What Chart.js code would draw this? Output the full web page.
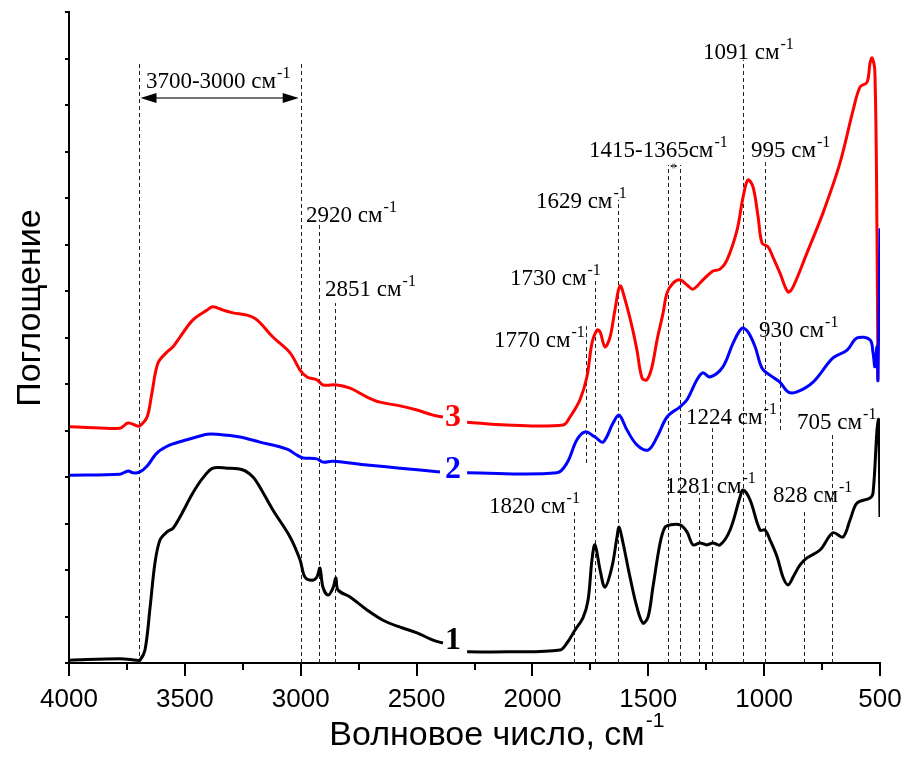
<!DOCTYPE html>
<html>
<head>
<meta charset="utf-8">
<script src="https://cdn.jsdelivr.net/npm/chart.js@4.4.1/dist/chart.umd.min.js"></script>
<style>
    body { margin: 0; background: #fff; }
    .spectrum { width: 908px; height: 771px; position: relative; }
</style>
</head>
<body>
<div class="spectrum"><canvas id="spectrumCanvas"></canvas></div>
<script>
// sample 1 (black)
const wn1 = [3996, 3780, 3707, 3694, 3672, 3650, 3629, 3607, 3577, 3551, 3521, 3465, 3422, 3379, 3318, 3249, 3206, 3176, 3120, 3046, 3003, 2982, 2951, 2930, 2917, 2904, 2882, 2861, 2848, 2839, 2787, 2714, 2645, 2571, 2498, 2429, 2386,
    2335,
    2282, 2110, 1881, 1851, 1816, 1782, 1760, 1743, 1730, 1708, 1687, 1657, 1635, 1626, 1609, 1579, 1549, 1523, 1501, 1480, 1449, 1428, 1406, 1363, 1333, 1307, 1277, 1247, 1221, 1190, 1147, 1104, 1091, 1061, 1018, 996, 975, 944, 919, 897, 875, 845, 815, 759, 703, 660, 629, 599, 543, 530, 513, 506, 500];
const abs1 = [0.006, 0.009, 0.006, 0.006, 0.028, 0.120, 0.215, 0.265, 0.282, 0.290, 0.314, 0.366, 0.398, 0.419, 0.419, 0.415, 0.400, 0.378, 0.329, 0.271, 0.222, 0.185, 0.178, 0.185, 0.204, 0.163, 0.146, 0.161, 0.183, 0.157, 0.142, 0.114, 0.092, 0.077, 0.065, 0.049, 0.043,
    null,
    0.024, 0.024, 0.028, 0.043, 0.071, 0.097, 0.135, 0.222, 0.254, 0.200, 0.163, 0.206, 0.271, 0.292, 0.258, 0.185, 0.120, 0.086, 0.099, 0.163, 0.258, 0.292, 0.297, 0.297, 0.282, 0.254, 0.258, 0.254, 0.258, 0.254, 0.286, 0.357, 0.372, 0.351, 0.286, 0.286, 0.265, 0.228, 0.185, 0.168, 0.185, 0.211, 0.226, 0.243, 0.280, 0.271, 0.308, 0.344, 0.355, 0.366, 0.501, 0.523, 0.314];

// sample 2 (blue)
const wn2 = [3996, 3780, 3745, 3724, 3694, 3659, 3620, 3564, 3491, 3404, 3361, 3262, 3176, 3059, 3016, 2990, 2930, 2904, 2861, 2714, 2571, 2399,
    2335,
    2282, 1894, 1851, 1808, 1773, 1730, 1695, 1652, 1626, 1592, 1549, 1501, 1462, 1419, 1363, 1333, 1290, 1264, 1234, 1178, 1134, 1096, 1070, 1039, 1009, 975, 932, 897, 858, 789, 703, 642, 599, 543, 530, 522, 513, 509, 500];
const abs2 = [0.404, 0.406, 0.413, 0.409, 0.411, 0.426, 0.452, 0.469, 0.480, 0.492, 0.492, 0.486, 0.475, 0.460, 0.447, 0.441, 0.439, 0.432, 0.434, 0.426, 0.419, 0.411,
    null,
    0.409, 0.409, 0.430, 0.480, 0.497, 0.486, 0.475, 0.516, 0.533, 0.501, 0.469, 0.458, 0.486, 0.529, 0.551, 0.566, 0.609, 0.624, 0.615, 0.637, 0.688, 0.720, 0.712, 0.680, 0.634, 0.619, 0.604, 0.583, 0.583, 0.604, 0.656, 0.673, 0.699, 0.695, 0.667, 0.637, 0.680, 0.609, 0.935];

// sample 3 (red)
const wn3 = [3996, 3780, 3745, 3707, 3694, 3663, 3642, 3616, 3577, 3551, 3521, 3465, 3404, 3379, 3335, 3292, 3232, 3189, 3120, 3046, 3003, 2973, 2930, 2904, 2843, 2787, 2714, 2658, 2571, 2498, 2429, 2386,
    2335,
    2282, 2110, 1868, 1838, 1795, 1765, 1743, 1721, 1708, 1687, 1665, 1644, 1622, 1600, 1570, 1549, 1527, 1506, 1484, 1462, 1436, 1419, 1393, 1363, 1333, 1307, 1264, 1221, 1190, 1160, 1117, 1091, 1070, 1048, 1026, 1009, 983, 962, 932, 897, 875, 815, 746, 673, 616, 586, 556, 543, 534, 522, 513, 509];
const abs3 = [0.508, 0.505, 0.516, 0.510, 0.510, 0.529, 0.581, 0.645, 0.669, 0.680, 0.701, 0.738, 0.759, 0.766, 0.759, 0.753, 0.748, 0.738, 0.701, 0.667, 0.630, 0.615, 0.609, 0.598, 0.598, 0.591, 0.572, 0.561, 0.553, 0.544, 0.533, 0.529,
    null,
    0.518, 0.512, 0.512, 0.529, 0.566, 0.615, 0.688, 0.716, 0.712, 0.680, 0.701, 0.759, 0.811, 0.781, 0.723, 0.673, 0.613, 0.609, 0.637, 0.695, 0.753, 0.796, 0.817, 0.824, 0.813, 0.804, 0.824, 0.843, 0.847, 0.867, 0.931, 1.002, 1.039, 1.024, 0.959, 0.903, 0.895, 0.873, 0.839, 0.798, 0.809, 0.882, 0.968, 1.075, 1.189, 1.239, 1.249, 1.290, 1.301, 1.269, 0.925, 0.609];

const xTicks = [4000, 3500, 3000, 2500, 2000, 1500, 1000, 500];

// band markers: wavenumber, dashed line from `from` up to `to`
const bands = [
    { wn: 3700, from: 0, to: 1.292 },
    { wn: 3000, from: 0, to: 1.292 },
    { wn: 2920, from: 0, to: 0.942 },
    { wn: 2851, from: 0, to: 0.774 },
    { wn: 1820, from: 0, to: 0.329 },
    { wn: 1770, from: 0.430, to: 0.731 },
    { wn: 1730, from: 0, to: 0.828 },
    { wn: 1629, from: 0, to: 0.996 },
    { wn: 1415, from: 0, to: 1.071 },
    { wn: 1365, from: 0, to: 1.071 },
    { wn: 1281, from: 0, to: 0.366 },
    { wn: 1224, from: 0, to: 0.505 },
    { wn: 1091, from: 0, to: 1.297 },
    { wn: 995, from: 0, to: 1.077 },
    { wn: 930, from: 0.501, to: 0.695 },
    { wn: 828, from: 0, to: 0.325 },
    { wn: 705, from: 0, to: 0.495 },
];

// band captions, anchored at their left baseline
const bandLabels = [
    { text: "3700-3000 см", wn: 3668, y: 1.237 },
    { text: "2920 см", wn: 2977, y: 0.948 },
    { text: "2851 см", wn: 2895, y: 0.789 },
    { text: "1770 см", wn: 2166, y: 0.680 },
    { text: "1730 см", wn: 2097, y: 0.813 },
    { text: "1629 см", wn: 1985, y: 0.978 },
    { text: "1415-1365см", wn: 1756, y: 1.088 },
    { text: "1091 см", wn: 1264, y: 1.299 },
    { text: "995 см", wn: 1057, y: 1.088 },
    { text: "930 см", wn: 1022, y: 0.701 },
    { text: "1224 см", wn: 1337, y: 0.514 },
    { text: "705 см", wn: 858, y: 0.503 },
    { text: "1820 см", wn: 2187, y: 0.323 },
    { text: "1281 см", wn: 1428, y: 0.366 },
    { text: "828 см", wn: 962, y: 0.346 },
];

const rangeArrows = [
    { from: 3700, to: 3000, y: 1.215, head: 16, half: 5 },
    { from: 1415, to: 1365, y: 1.069, head: 5, half: 2.5 },
];

const curveNames = [
    { text: "1", wn: 2343, y: 0.047, color: "#000000" },
    { text: "2", wn: 2343, y: 0.415, color: "#0000ff" },
    { text: "3", wn: 2343, y: 0.527, color: "#ff0000" },
];

const toPoints = (wn, ab) => wn.map((w, i) => ({ x: w, y: ab[i] }));

const SERIF = "'Liberation Serif', 'Times New Roman', serif";
const SANS = "'Liberation Sans', Arial, sans-serif";

function withUnit(ctx, text, x, y, size, supSize, rise) {
    ctx.font = size + "px " + SERIF;
    ctx.fillText(text, x, y);
    const w = ctx.measureText(text).width;
    ctx.font = supSize + "px " + SERIF;
    ctx.fillText("-1", x + w + 1, y - rise);
}

const decorations = {
    id: "decorations",
    beforeDatasetsDraw(chart) {
        const { ctx, scales: { x, y } } = chart;
        ctx.save();
        ctx.strokeStyle = "#222";
        ctx.lineWidth = 1;
        ctx.setLineDash([4, 3]);
        bands.forEach((b) => {
            const px = Math.round(x.getPixelForValue(b.wn)) + 0.5;
            ctx.beginPath();
            ctx.moveTo(px, y.getPixelForValue(b.from));
            ctx.lineTo(px, y.getPixelForValue(b.to));
            ctx.stroke();
        });
        ctx.setLineDash([]);

        rangeArrows.forEach((a) => {
            const x1 = x.getPixelForValue(a.from) + 2;
            const x2 = x.getPixelForValue(a.to) - 2;
            const py = y.getPixelForValue(a.y);
            ctx.strokeStyle = "#444";
            ctx.lineWidth = 1.5;
            ctx.beginPath();
            ctx.moveTo(x1 + a.head / 2, py);
            ctx.lineTo(x2 - a.head / 2, py);
            ctx.stroke();
            ctx.fillStyle = "#000";
            ctx.beginPath();
            ctx.moveTo(x1, py);
            ctx.lineTo(x1 + a.head, py - a.half);
            ctx.lineTo(x1 + a.head, py + a.half);
            ctx.closePath();
            ctx.moveTo(x2, py);
            ctx.lineTo(x2 - a.head, py - a.half);
            ctx.lineTo(x2 - a.head, py + a.half);
            ctx.closePath();
            ctx.fill();
        });

        ctx.fillStyle = "#000";
        ctx.textAlign = "left";
        ctx.textBaseline = "alphabetic";
        bandLabels.forEach((l) => {
            withUnit(ctx, l.text, x.getPixelForValue(l.wn), y.getPixelForValue(l.y), 23, 16, 10);
        });
        ctx.restore();
    },
    afterDraw(chart) {
        const { ctx, chartArea, scales: { x, y } } = chart;
        ctx.save();
        ctx.strokeStyle = "#000";
        ctx.lineWidth = 2;

        // x ticks: long at labelled values, short in between
        x.ticks.forEach((t) => {
            const px = Math.round(x.getPixelForValue(t.value));
            const major = xTicks.includes(t.value);
            ctx.beginPath();
            ctx.moveTo(px, chartArea.bottom);
            ctx.lineTo(px, chartArea.bottom + (major ? 13 : 7));
            ctx.stroke();
        });
        y.ticks.forEach((t) => {
            const py = Math.round(y.getPixelForValue(t.value));
            ctx.beginPath();
            ctx.moveTo(chartArea.left - 4, py);
            ctx.lineTo(chartArea.left, py);
            ctx.stroke();
        });

        ctx.fillStyle = "#000";
        ctx.font = "26px " + SANS;
        ctx.textAlign = "center";
        ctx.textBaseline = "alphabetic";
        xTicks.forEach((v) => {
            ctx.fillText(String(v), x.getPixelForValue(v), chartArea.bottom + 44);
        });

        // axis titles
        ctx.font = "34px " + SANS;
        const xTitle = "Волновое число, см";
        const tw = ctx.measureText(xTitle).width;
        const tx = 487 - tw / 2;
        ctx.textAlign = "left";
        ctx.fillText(xTitle, tx, chartArea.bottom + 82);
        ctx.font = "21px " + SANS;
        ctx.fillText("-1", tx + tw + 1, chartArea.bottom + 64);

        ctx.save();
        ctx.translate(40, 308);
        ctx.rotate(-Math.PI / 2);
        ctx.font = "34px " + SANS;
        ctx.textAlign = "center";
        ctx.fillText("Поглощение", 0, 0);
        ctx.restore();

        // curve numbers
        ctx.font = "bold 32px " + SERIF;
        ctx.textAlign = "center";
        ctx.textBaseline = "middle";
        curveNames.forEach((c) => {
            ctx.fillStyle = c.color;
            ctx.fillText(c.text, x.getPixelForValue(c.wn), y.getPixelForValue(c.y));
        });
        ctx.restore();
    },
};

const lineStyle = (color) => ({
    borderColor: color,
    borderWidth: 3,
    pointRadius: 0,
    tension: 0.35,
    spanGaps: false,
    fill: false,
});

new Chart(document.getElementById("spectrumCanvas"), {
    type: "line",
    data: {
        datasets: [
            { label: "1", data: toPoints(wn1, abs1), ...lineStyle("#000000") },
            { label: "2", data: toPoints(wn2, abs2), ...lineStyle("#0000ff") },
            { label: "3", data: toPoints(wn3, abs3), ...lineStyle("#ff0000") },
        ],
    },
    options: {
        responsive: true,
        maintainAspectRatio: false,
        animation: false,
        layout: {
            padding: { top: 12, right: 28, left: 0, bottom: 0 },
        },
        plugins: {
            legend: { display: false },
            tooltip: { enabled: false },
        },
        scales: {
            x: {
                type: "linear",
                reverse: true,
                min: 500,
                max: 4000,
                ticks: { stepSize: 250, display: false },
                grid: { display: false },
                border: { display: true, color: "#000", width: 2 },
                afterFit: (scale) => {
                    scale.height = 108;
                },
            },
            y: {
                min: 0,
                max: 1.4,
                ticks: { stepSize: 0.1, display: false },
                grid: { display: false },
                border: { display: true, color: "#000", width: 2 },
                afterFit: (scale) => {
                    scale.width = 69;
                },
            },
        },
    },
    plugins: [decorations],
});
</script>
</body>
</html>
